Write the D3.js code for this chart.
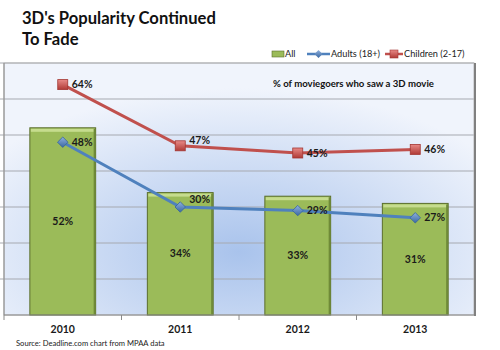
<!DOCTYPE html>
<html>
<head>
<meta charset="utf-8">
<script src="https://cdn.jsdelivr.net/npm/d3@7"></script>
<style>
  body { margin: 0; background: #fff; }
  svg { display: block; }
</style>
</head>
<body>
<svg id="chart"></svg>
<script>
// Data
let years = ["2010", "2011", "2012", "2013"];
let allPct = [52, 34, 33, 31];
let adultPct = [48, 30, 29, 27];
let childPct = [64, 47, 45, 46];
let yTicks = [0, 10, 20, 30, 40, 50, 60, 70];

// Colors
let green = "#9bbb59";
let greenDark = "#5b6e2c";
let blue = "#4f81bd";
let red = "#c0504d";

let width = 500, height = 350;
let font = "Lato, 'Open Sans', sans-serif";

let svg = d3.select("#chart")
  .attr("width", width)
  .attr("height", height);

let pLeft = 4, pRight = 474, pTop = 63, pBottom = 315;

let xax = d3.scaleBand()
  .domain(years)
  .range([pLeft, pRight])
  .paddingInner(0.44)
  .paddingOuter(0.22);
let xband = d3.scaleBand().domain(years).range([pLeft, pRight]);
let yax = d3.scaleLinear()
  .domain([0, 70])
  .range([pBottom, pTop]);

let defs = svg.append("defs");
let bg = defs.append("radialGradient")
  .attr("id", "bgGrad")
  .attr("cx", "0.5").attr("cy", "0.75").attr("r", "0.65");
bg.append("stop").attr("offset", "0%").attr("stop-color", "#a9c3ec");
bg.append("stop").attr("offset", "100%").attr("stop-color", "#f0f4fc");

let sq = defs.append("linearGradient")
  .attr("id", "sqGrad").attr("x1", 0).attr("y1", 0).attr("x2", 0).attr("y2", 1);
sq.append("stop").attr("offset", "0%").attr("stop-color", "#e88a87");
sq.append("stop").attr("offset", "100%").attr("stop-color", "#b03a36");

let dm = defs.append("linearGradient")
  .attr("id", "dmGrad").attr("x1", 0).attr("y1", 0).attr("x2", 0).attr("y2", 1);
dm.append("stop").attr("offset", "0%").attr("stop-color", "#8fb0dc");
dm.append("stop").attr("offset", "100%").attr("stop-color", "#3a68a3");

// Plot background + frame
svg.append("rect")
  .attr("x", pLeft).attr("y", pTop)
  .attr("width", pRight - pLeft).attr("height", pBottom - pTop)
  .attr("fill", "url(#bgGrad)");

svg.append("g")
  .selectAll("line")
  .data(yTicks.slice(1))
  .join("line")
    .attr("x1", pLeft - 4).attr("x2", pRight)
    .attr("y1", d => yax(d)).attr("y2", d => yax(d))
    .attr("stroke", "#a6a9b0")
    .attr("stroke-width", 1);

svg.append("rect")
  .attr("x", pLeft).attr("y", pTop)
  .attr("width", pRight - pLeft).attr("height", pBottom - pTop)
  .attr("fill", "none")
  .attr("stroke", "#b8b8b8");
svg.append("line")
  .attr("x1", pRight + 1).attr("x2", pRight + 1)
  .attr("y1", pTop).attr("y2", pBottom + 1)
  .attr("stroke", "#808080").attr("stroke-width", 2);

// Bars
let bars = svg.append("g");
bars.selectAll("rect.bar")
  .data(allPct)
  .join("rect")
    .attr("class", "bar")
    .attr("x", (d, i) => xax(years[i]))
    .attr("y", d => yax(d))
    .attr("width", xax.bandwidth())
    .attr("height", d => yax(0) - yax(d))
    .attr("fill", green)
    .attr("stroke", greenDark)
    .attr("stroke-width", 1);
bars.selectAll("rect.hl")
  .data(allPct)
  .join("rect")
    .attr("class", "hl")
    .attr("x", (d, i) => xax(years[i]) + 1)
    .attr("y", d => yax(d) + 1)
    .attr("width", xax.bandwidth() - 2)
    .attr("height", 3)
    .attr("fill", "#c6dc8e");
bars.selectAll("rect.sh")
  .data(allPct)
  .join("rect")
    .attr("class", "sh")
    .attr("x", (d, i) => xax(years[i]) + xax.bandwidth() - 2)
    .attr("y", d => yax(d) + 1)
    .attr("width", 2)
    .attr("height", d => yax(0) - yax(d) - 1)
    .attr("fill", "#6f8a38");
bars.selectAll("text")
  .data(allPct)
  .join("text")
    .attr("x", (d, i) => xax(years[i]) + xax.bandwidth() / 2)
    .attr("y", d => (yax(d) + yax(0)) / 2)
    .attr("dy", "0.35em")
    .attr("text-anchor", "middle")
    .attr("font-family", font)
    .attr("font-weight", "bold")
    .attr("font-size", 10.5)
    .attr("fill", "#1a1a1a")
    .text(d => d + "%");

// Axes
svg.append("line")
  .attr("x1", pLeft).attr("x2", pRight)
  .attr("y1", pBottom).attr("y2", pBottom)
  .attr("stroke", "#8a8a8a");
svg.append("line")
  .attr("x1", pLeft).attr("x2", pLeft)
  .attr("y1", pTop).attr("y2", pBottom)
  .attr("stroke", "#8a8a8a");
svg.append("g")
  .selectAll("line")
  .data(years.slice(1))
  .join("line")
    .attr("x1", d => xband(d)).attr("x2", d => xband(d))
    .attr("y1", pBottom).attr("y2", pBottom + 5)
    .attr("stroke", "#8a8a8a");
svg.append("line")
  .attr("x1", pLeft).attr("x2", pLeft)
  .attr("y1", pBottom).attr("y2", pBottom + 5)
  .attr("stroke", "#8a8a8a");

svg.append("g")
  .selectAll("text")
  .data(years)
  .join("text")
    .attr("x", d => xband(d) + xband.bandwidth() / 2)
    .attr("y", pBottom + 18)
    .attr("text-anchor", "middle")
    .attr("font-family", font)
    .attr("font-weight", "bold")
    .attr("font-size", 10.5)
    .attr("fill", "#1a1a1a")
    .text(d => d);

// Lines
let cx = i => xband(years[i]) + xband.bandwidth() / 2;
let line = d3.line()
  .x((d, i) => cx(i))
  .y(d => yax(d));

svg.append("path")
  .attr("d", line(childPct))
  .attr("fill", "none")
  .attr("stroke", red)
  .attr("stroke-width", 3);
svg.append("path")
  .attr("d", line(adultPct))
  .attr("fill", "none")
  .attr("stroke", blue)
  .attr("stroke-width", 3);

svg.append("g")
  .selectAll("rect")
  .data(childPct)
  .join("rect")
    .attr("x", (d, i) => cx(i) - 5)
    .attr("y", d => yax(d) - 5)
    .attr("width", 10).attr("height", 10)
    .attr("fill", "url(#sqGrad)")
    .attr("stroke", "#a33632")
    .attr("stroke-width", 0.8);
svg.append("g")
  .selectAll("path")
  .data(adultPct)
  .join("path")
    .attr("d", d3.symbol(d3.symbolDiamond2, 70))
    .attr("transform", (d, i) => `translate(${cx(i)}, ${yax(d)})`)
    .attr("fill", "url(#dmGrad)")
    .attr("stroke", "#36649c")
    .attr("stroke-width", 0.8);

// point labels, a couple nudged up as in the original
function pointLabels(values, lift) {
  svg.append("g")
    .selectAll("text")
    .data(values)
    .join("text")
      .attr("x", (d, i) => cx(i) + 9)
      .attr("y", (d, i) => yax(d) - lift[i])
      .attr("dy", "0.35em")
      .attr("font-family", font)
      .attr("font-weight", "bold")
      .attr("font-size", 10.5)
      .attr("fill", "#1a1a1a")
      .text(d => d + "%");
}
pointLabels(childPct, [0, 5, 0, 0]);
pointLabels(adultPct, [0, 8, 0, 0]);

// Title
svg.append("text")
  .attr("x", 22).attr("y", 24)
  .attr("font-family", font)
  .attr("font-weight", "bold")
  .attr("font-size", 16.6)
  .attr("fill", "#111")
  .text("3D's Popularity Continued");
svg.append("text")
  .attr("x", 22).attr("y", 45)
  .attr("font-family", font)
  .attr("font-weight", "bold")
  .attr("font-size", 16.6)
  .attr("fill", "#111")
  .text("To Fade");

// Legend
let lg = svg.append("g").attr("font-family", font).attr("font-size", 9.2).attr("fill", "#222");
lg.append("rect").attr("x", 272).attr("y", 51).attr("width", 12).attr("height", 6)
  .attr("fill", green).attr("stroke", greenDark).attr("stroke-width", 0.6);
lg.append("text").attr("x", 285).attr("y", 54).attr("dy", "0.35em").text("All");
lg.append("line").attr("x1", 307).attr("x2", 330).attr("y1", 54).attr("y2", 54)
  .attr("stroke", blue).attr("stroke-width", 2.5);
lg.append("path").attr("d", d3.symbol(d3.symbolDiamond2, 40))
  .attr("transform", "translate(318.5,54)").attr("fill", "url(#dmGrad)");
lg.append("text").attr("x", 331).attr("y", 54).attr("dy", "0.35em").text("Adults (18+)");
lg.append("line").attr("x1", 385).attr("x2", 403).attr("y1", 54).attr("y2", 54)
  .attr("stroke", red).attr("stroke-width", 2.5);
lg.append("rect").attr("x", 390).attr("y", 50).attr("width", 8).attr("height", 8)
  .attr("fill", "url(#sqGrad)").attr("stroke", "#a33632").attr("stroke-width", 0.6);
lg.append("text").attr("x", 404).attr("y", 54).attr("dy", "0.35em").text("Children (2-17)");

// Annotation
svg.append("text")
  .attr("x", 273).attr("y", 87)
  .attr("font-family", font)
  .attr("font-weight", "bold")
  .attr("font-size", 9.6)
  .attr("fill", "#111")
  .text("% of moviegoers who saw a 3D movie");

// Source
svg.append("text")
  .attr("x", 16).attr("y", 346)
  .attr("font-family", font)
  .attr("font-size", 7.6)
  .attr("fill", "#222")
  .text("Source: Deadline.com chart from MPAA data");
</script>
</body>
</html>
